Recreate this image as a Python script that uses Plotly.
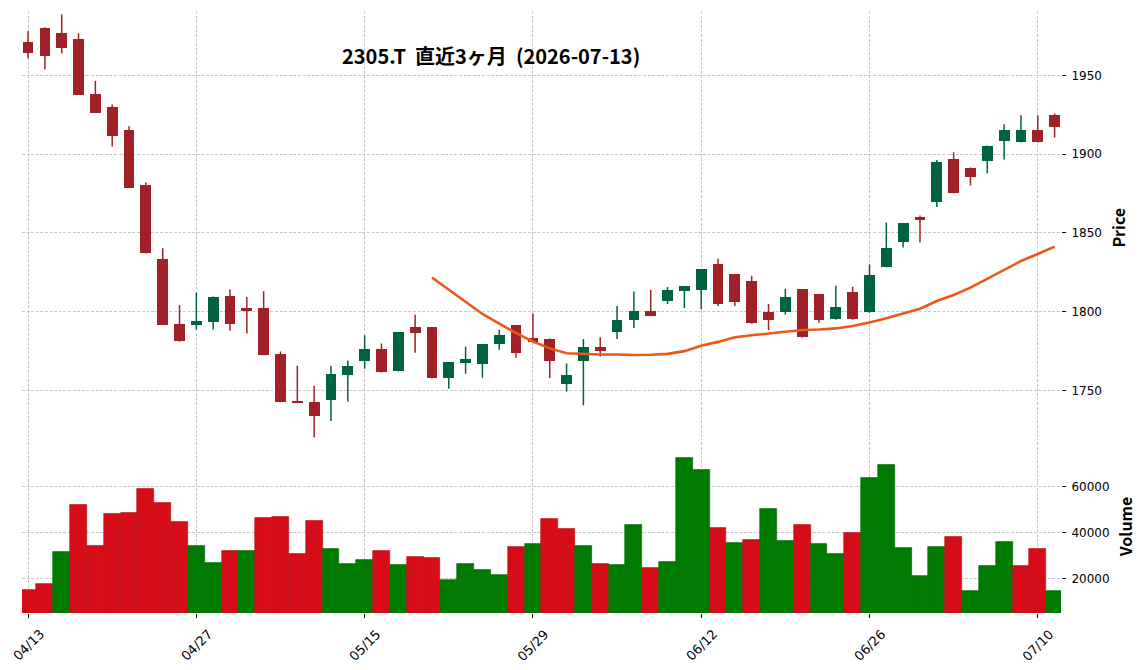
import plotly.graph_objects as go
import pandas as pd

dates = ["04/13","04/14","04/15","04/16","04/17","04/20","04/21","04/22","04/23","04/24",
         "04/27","04/28","04/30","05/01","05/07","05/08","05/11","05/12","05/13","05/14",
         "05/15","05/18","05/19","05/20","05/21","05/22","05/25","05/26","05/27","05/28",
         "05/29","06/01","06/02","06/03","06/04","06/05","06/08","06/09","06/10","06/11",
         "06/12","06/15","06/16","06/17","06/18","06/19","06/22","06/23","06/24","06/25",
         "06/26","06/29","06/30","07/01","07/02","07/03","07/06","07/07","07/08","07/09",
         "07/10","07/13"]

opens = [1971.2,1980.1,1976.9,1973.1,1938.1,1929.9,1915.3,1880.4,1833.4,1792.1,
         1791.7,1793.4,1809.9,1802.3,1802.3,1773.0,1743.2,1743.0,1743.9,1759.7,
         1768.6,1776.1,1762.3,1790.0,1790.0,1757.8,1767.5,1766.7,1779.7,1791.3,
         1783.1,1782.8,1754.3,1768.9,1777.7,1787.4,1794.5,1800.6,1807.0,1813.4,
         1814.0,1830.2,1823.8,1819.8,1800.0,1799.6,1814.2,1811.0,1795.1,1812.3,
         1799.6,1828.4,1844.3,1860.0,1869.7,1896.8,1891.1,1895.8,1908.5,1907.6,
         1915.3,1924.8]

highs = [1978.1,1980.5,1988.7,1976.7,1946.6,1931.4,1917.6,1882.1,1840.2,1804.2,
         1812.2,1809.7,1814.1,1809.3,1812.9,1774.7,1765.7,1753.0,1765.7,1769.1,
         1785.0,1779.9,1787.0,1798.1,1790.2,1768.0,1777.8,1779.5,1788.6,1791.5,
         1798.9,1783.0,1767.2,1782.6,1783.8,1803.6,1812.8,1813.8,1815.7,1816.0,
         1827.0,1833.6,1824.0,1822.8,1804.9,1814.5,1814.4,1811.2,1816.5,1815.9,
         1829.9,1856.6,1856.3,1861.0,1896.2,1901.1,1891.5,1905.5,1918.9,1924.6,
         1924.6,1925.8]

lows = [1960.8,1953.8,1964.0,1937.5,1926.0,1904.9,1878.5,1837.0,1791.5,1781.0,
        1788.7,1788.7,1788.1,1786.2,1772.4,1742.5,1742.2,1720.1,1730.7,1742.8,
        1763.8,1761.5,1762.0,1773.9,1757.6,1751.1,1760.6,1758.1,1775.8,1770.8,
        1780.5,1757.9,1749.4,1740.6,1771.5,1782.6,1789.6,1797.2,1804.9,1802.3,
        1801.5,1803.6,1803.6,1792.4,1788.3,1798.3,1783.7,1793.0,1794.9,1794.9,
        1799.4,1828.2,1840.7,1843.9,1866.5,1875.2,1880.1,1887.9,1896.6,1907.4,
        1907.4,1910.6]

closes = [1964.4,1962.5,1967.6,1937.7,1926.3,1911.7,1878.7,1837.4,1791.7,1781.3,
          1794.0,1809.5,1792.4,1800.6,1772.6,1742.7,1742.3,1734.1,1760.2,1765.3,
          1776.1,1761.7,1786.9,1786.4,1757.8,1767.8,1769.7,1779.2,1785.0,1773.7,
          1780.7,1768.9,1759.8,1777.7,1775.3,1794.9,1800.6,1797.4,1814.0,1816.0,
          1826.8,1805.1,1806.4,1792.6,1794.5,1809.6,1783.9,1794.5,1802.8,1795.1,
          1823.1,1840.3,1856.1,1858.3,1894.9,1875.4,1885.6,1905.1,1915.3,1915.3,
          1907.6,1917.4]

volumes = [14900,17500,31400,51900,34100,48000,48400,58800,52800,44500,
           34100,26700,31900,31900,46200,46700,30600,44900,32800,26200,
           28000,31900,25800,29300,28800,19300,26200,23600,21400,33600,
           34900,45800,41400,34100,26200,25800,43200,24500,27100,72300,
           67100,41900,35400,36700,50100,36200,43200,34900,30600,39700,
           63600,69300,33200,21000,33600,38000,14500,25400,35800,25400,
           32800,14500]

price_ticks = [1750, 1800, 1850, 1900, 1950]
volume_ticks = [20000, 40000, 60000]
xtick_idx = [0, 10, 20, 30, 40, 50, 60]
title_text = "2305.T\u00a0\u00a0直近3ヶ月\u00a0\u00a0(2026-07-13)"
ma_window = 25

UP_C, DOWN_C = "#006340", "#A02128"
VUP_C, VDOWN_C = "#007a00", "#d50d18"
MA_C = "#ef5714"
GRID_C = "#c8c8c8"

n = len(closes)
idx = list(range(n))
is_up = [c >= o for o, c in zip(opens, closes)]
ma = pd.Series(closes).rolling(ma_window).mean()

vol_up = [closes[i] > (closes[i - 1] if i > 0 else opens[i]) for i in idx]

fig = go.Figure()

# wicks
for flag, col in ((True, UP_C), (False, DOWN_C)):
    wx, wy = [], []
    for i in idx:
        if is_up[i] == flag:
            wx += [i, i, None]
            wy += [lows[i], highs[i], None]
    fig.add_trace(go.Scatter(x=wx, y=wy, mode="lines", line=dict(color=col, width=1.5),
                             xaxis="x", yaxis="y", showlegend=False, hoverinfo="skip"))

# bodies
body_base = [min(o, c) for o, c in zip(opens, closes)]
body_h = [max(abs(c - o), 0.6) for o, c in zip(opens, closes)]
fig.add_trace(go.Bar(x=idx, y=body_h, base=body_base, width=0.64,
                     marker=dict(color=[UP_C if u else DOWN_C for u in is_up], line=dict(width=0)),
                     xaxis="x", yaxis="y", showlegend=False))

# moving average
fig.add_trace(go.Scatter(x=idx, y=ma, mode="lines", line=dict(color=MA_C, width=2.6),
                         xaxis="x", yaxis="y", showlegend=False))

# volume
fig.add_trace(go.Bar(x=idx, y=volumes, width=1.0,
                     marker=dict(color=[VUP_C if u else VDOWN_C for u in vol_up],
                                 line=dict(width=0.6, color=["#006a00" if u else "#b80c15" for u in vol_up])),
                     xaxis="x2", yaxis="y2", showlegend=False))

tick_font = dict(family="DejaVu Sans", size=12, color="#000000")
xlab_font = dict(family="DejaVu Sans", size=13, color="#000000")
grid_common = dict(showgrid=True, gridcolor=GRID_C, gridwidth=0.8, griddash="3px,1.6px",
                   zeroline=False, showline=False)

L, R, T, B = 22, 83, 11, 57.3
W, H = 1144, 670
plot_h = H - T - B
vol_top = 612.7 - 441.7
price_bottom = 612.7 - 439.3

annotations = [
    dict(text=title_text, xref="paper", yref="paper", x=(491 - L) / (W - L - R),
         y=(612.7 - 55) / plot_h, xanchor="center", yanchor="middle", showarrow=False,
         font=dict(family="Noto Sans CJK JP", size=20, color="#000000", weight="bold")),
    dict(text="Price", xref="paper", yref="paper", x=(1118 - L) / (W - L - R),
         y=(612.7 - 227.5) / plot_h, xanchor="center", yanchor="middle", showarrow=False,
         textangle=-90, font=dict(family="Noto Sans CJK JP", size=16, color="#000000", weight="bold")),
    dict(text="Volume", xref="paper", yref="paper", x=(1125 - L) / (W - L - R),
         y=(612.7 - 527) / plot_h, xanchor="center", yanchor="middle", showarrow=False,
         textangle=-90, font=dict(family="Noto Sans CJK JP", size=16, color="#000000", weight="bold")),
]
for i in xtick_idx:
    annotations.append(dict(text=dates[i], xref="x2", yref="paper", x=i, y=0, yshift=-11,
                            xanchor="center", yanchor="top", showarrow=False, textangle=-45,
                            font=xlab_font))

fig.update_layout(
    width=W, height=H,
    margin=dict(l=L, r=R, t=T, b=B, autoexpand=False),
    paper_bgcolor="white", plot_bgcolor="white",
    barmode="overlay", bargap=0,
    xaxis=dict(domain=[0, 1], anchor="y", range=[-0.36, 61.38], tickvals=xtick_idx,
               showticklabels=False, ticks="", **grid_common),
    xaxis2=dict(domain=[0, 1], anchor="y2", matches="x", range=[-0.36, 61.38], tickvals=xtick_idx,
                showticklabels=False, ticks="outside",
                ticklen=4, tickwidth=1, tickcolor="#000000", **grid_common),
    yaxis=dict(domain=[price_bottom / plot_h, 1], anchor="x", side="right",
               range=[1718.9, 1990.8], tickvals=price_ticks, ticks="outside", ticklen=4,
               tickwidth=1, tickcolor="#000000", tickfont=tick_font, ticklabelstandoff=3,
               **grid_common),
    yaxis2=dict(domain=[0, vol_top / plot_h], anchor="x2", side="right",
                range=[4900, 79400], tickvals=volume_ticks, tickformat="d", ticks="outside",
                ticklen=4, tickwidth=1, tickcolor="#000000", tickfont=tick_font,
                ticklabelstandoff=3, **grid_common),
    annotations=annotations,
)

fig.write_html("out.html")
